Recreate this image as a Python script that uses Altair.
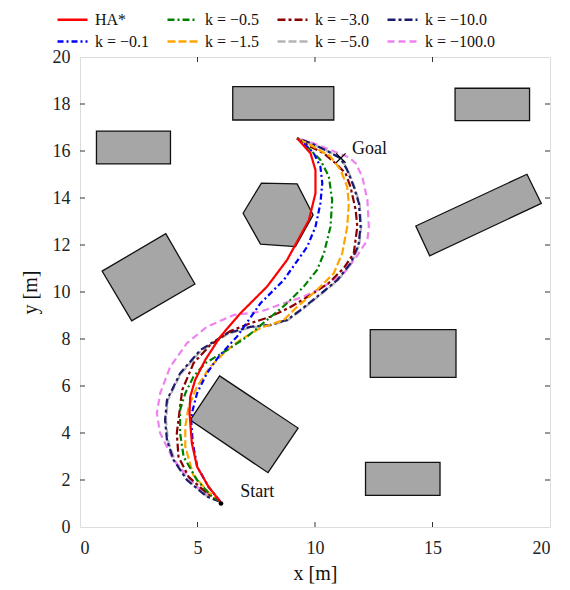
import altair as alt
import pandas as pd

SERIF = "Liberation Serif, Times New Roman, DejaVu Serif, serif"

# ---------------- series (legend order) ----------------
legend_order = ["HA*", "k = −0.5", "k = −3.0", "k = −10.0",
                "k = −0.1", "k = −1.5", "k = −5.0", "k = −100.0"]
colors = {"HA*": "#ff0000", "k = −0.1": "#0000ff", "k = −0.5": "#008000",
          "k = −1.5": "#ffa500", "k = −3.0": "#8b0000", "k = −5.0": "#b4b4b4",
          "k = −10.0": "#1c1c6e", "k = −100.0": "#ee82ee"}
dashes = {"HA*": [1, 0], "k = −0.1": [6, 3, 2, 3], "k = −0.5": [7, 3, 2, 3],
          "k = −1.5": [8, 3], "k = −3.0": [8, 3, 3, 3], "k = −5.0": [8, 3],
          "k = −10.0": [8, 3, 3, 3], "k = −100.0": [7, 4]}

ha_x = [5.97, 5.47, 4.98, 4.76, 4.66, 4.69, 4.90, 5.33, 5.97, 6.82, 7.96, 8.81, 9.74, 10.02, 10.02, 9.81, 9.24]
ha_y = [1.08, 1.71, 2.57, 3.56, 4.85, 5.54, 6.26, 7.11, 8.10, 9.09, 10.23, 11.36, 13.06, 14.20, 15.19, 15.90, 16.54]

k01_x = [5.97, 5.47, 4.99, 4.80, 4.73, 4.76, 4.98, 5.40, 5.90, 6.68, 7.68, 8.67, 9.67, 10.02, 10.23, 10.31, 10.23, 9.95, 9.52, 9.24]
k01_y = [1.08, 1.71, 2.57, 3.56, 4.55, 4.84, 5.69, 6.54, 7.25, 8.10, 9.52, 10.51, 11.93, 12.78, 13.77, 14.63, 15.33, 15.90, 16.33, 16.54]

k05_x = [5.97, 5.54, 4.98, 4.41, 4.26, 4.26, 4.48, 4.83, 5.33, 6.26, 7.11, 7.96, 8.81, 9.52, 10.09, 10.38, 10.66, 10.73, 10.59, 10.23, 9.74, 9.24]
k05_y = [1.08, 1.36, 2.00, 2.99, 3.99, 4.98, 5.69, 6.40, 6.97, 7.53, 8.10, 8.81, 9.52, 10.23, 10.94, 11.65, 12.78, 13.91, 14.91, 15.62, 16.11, 16.54]

k15_x = [5.97, 5.46, 4.82, 4.48, 4.48, 4.62, 4.98, 5.54, 6.26, 6.82, 7.68, 8.67, 9.24, 10.09, 10.80, 11.16, 11.37, 11.44, 11.37, 11.09, 10.66, 9.95, 9.24]
k15_y = [1.08, 1.49, 2.21, 3.42, 4.27, 5.12, 5.97, 6.82, 7.53, 7.96, 8.47, 8.81, 9.37, 10.09, 10.80, 11.65, 12.78, 13.77, 14.48, 15.19, 15.76, 16.18, 16.54]

k3_x = [5.97, 5.40, 4.62, 4.19, 4.12, 4.26, 4.35, 4.83, 5.54, 6.40, 7.25, 8.10, 8.96, 9.81, 10.58, 11.23, 11.65, 11.80, 11.73, 11.51, 11.30, 10.87, 10.38, 9.81, 9.24]
k3_y = [1.08, 1.43, 2.14, 2.99, 3.99, 5.12, 5.83, 6.97, 7.74, 8.34, 8.67, 8.95, 9.36, 9.87, 10.38, 11.02, 11.65, 12.78, 13.49, 14.48, 15.05, 15.48, 15.90, 16.18, 16.54]

k5_x = [5.97, 5.42, 4.58, 4.02, 3.74, 3.66, 3.74, 4.29, 5.15, 6.29, 7.27, 8.12, 8.83, 9.40, 10.11, 10.97, 11.54, 11.88, 11.97, 11.90, 11.68, 11.40, 11.11, 10.47, 9.82, 9.24]
k5_y = [1.08, 1.30, 2.02, 2.86, 3.70, 4.55, 5.40, 6.52, 7.50, 8.21, 8.49, 8.58, 8.79, 9.21, 9.78, 10.49, 11.20, 11.98, 12.78, 13.77, 14.48, 15.19, 15.68, 16.03, 16.33, 16.54]

k10_x = [5.97, 5.40, 4.55, 3.98, 3.70, 3.62, 3.70, 4.26, 5.12, 6.26, 7.25, 8.10, 8.81, 9.38, 10.09, 10.95, 11.51, 11.85, 11.94, 11.87, 11.65, 11.37, 11.09, 10.45, 9.81, 9.24]
k10_y = [1.08, 1.29, 2.00, 2.85, 3.70, 4.55, 5.40, 6.54, 7.53, 8.24, 8.52, 8.60, 8.81, 9.23, 9.80, 10.51, 11.22, 12.00, 12.78, 13.77, 14.48, 15.19, 15.69, 16.04, 16.34, 16.54]

k100_x = [5.97, 4.98, 3.98, 3.41, 3.27, 3.41, 3.84, 4.55, 5.40, 6.54, 7.68, 8.67, 9.52, 10.38, 11.23, 11.73, 12.23, 12.29, 12.23, 12.01, 11.73, 11.43, 11.09, 10.45, 9.81, 9.24]
k100_y = [1.08, 1.71, 2.85, 3.99, 4.84, 5.69, 6.82, 7.82, 8.52, 9.02, 9.16, 9.52, 9.80, 10.23, 10.80, 11.45, 12.21, 12.78, 13.91, 14.91, 15.48, 15.74, 15.87, 16.13, 16.38, 16.54]

# drawing order (first drawn = bottom)
draw_series = [("k = −5.0", k5_x, k5_y), ("k = −100.0", k100_x, k100_y),
               ("k = −10.0", k10_x, k10_y), ("k = −3.0", k3_x, k3_y),
               ("k = −1.5", k15_x, k15_y), ("k = −0.5", k05_x, k05_y),
               ("k = −0.1", k01_x, k01_y), ("HA*", ha_x, ha_y)]

# ---------------- obstacles ----------------
obstacles = {
    "rect_tl": [(0.70, 15.45), (3.85, 15.45), (3.85, 16.85), (0.70, 16.85)],
    "rect_tm": [(6.50, 17.32), (10.80, 17.32), (10.80, 18.74), (6.50, 18.74)],
    "rect_tr": [(15.96, 17.29), (19.13, 17.29), (19.13, 18.67), (15.96, 18.67)],
    "rot_r": [(14.29, 12.81), (19.02, 15.01), (19.63, 13.77), (14.88, 11.54)],
    "hexagon": [(6.94, 13.35), (7.72, 14.63), (9.24, 14.60), (9.92, 13.28), (9.17, 11.93), (7.68, 12.04)],
    "rot_l": [(0.94, 10.89), (3.65, 12.48), (4.89, 10.34), (2.20, 8.77)],
    "rot_m": [(5.94, 6.43), (9.28, 4.21), (8.00, 2.31), (4.69, 4.55)],
    "rect_mr": [(12.35, 6.37), (16.00, 6.37), (16.00, 8.40), (12.35, 8.40)],
    "rect_b": [(12.15, 1.35), (15.32, 1.35), (15.32, 2.75), (12.15, 2.75)],
}

start_xy = (6.0, 1.0)
goal_xy = (11.1, 15.7)
labels = ["Start", "Goal"]
label_x = [6.82, 11.57]
label_y = [1.49, 16.09]

x_ticks = [5, 10, 15]
y_ticks = [2, 4, 6, 8, 10, 12, 14, 16, 18]

W = H = 470

# ---------------- data frames ----------------
rows = []
for name, xs, ys in draw_series:
    for i, (xv, yv) in enumerate(zip(xs, ys)):
        rows.append({"series": name, "x": xv, "y": yv, "i": i})
paths = pd.DataFrame(rows)

orows = []
for name, pts in obstacles.items():
    for i, (xv, yv) in enumerate(pts):
        orows.append({"obs": name, "x": xv, "y": yv, "i": i})
obs_df = pd.DataFrame(orows)

xs_scale = alt.Scale(domain=[0, 20], nice=False, zero=False)
ys_scale = alt.Scale(domain=[0, 20], nice=False, zero=False)

axis_common = dict(labelFont=SERIF, labelFontSize=18, labelColor="#222",
                   titleFont=SERIF, titleFontSize=20, titleColor="#111",
                   titleFontWeight="normal", ticks=False, domain=False, grid=False)

X = alt.X("x:Q", scale=xs_scale,
          axis=alt.Axis(title="x [m]", values=[0, 5, 10, 15, 20], labelPadding=12,
                        titlePadding=6, **axis_common))
Y = alt.Y("y:Q", scale=ys_scale,
          axis=alt.Axis(title="y [m]", values=list(range(0, 21, 2)), labelPadding=10,
                        titlePadding=12, **axis_common))

obs_layer = alt.Chart(obs_df).mark_line(
    interpolate="linear-closed", fill="#a6a6a6", stroke="#111", strokeWidth=1.3
).encode(x=X, y=Y, detail="obs:N", order="i:Q")

legend = alt.Legend(orient="none", legendX=-19, legendY=-49, direction="horizontal",
                    columns=4, title=None, symbolType="M-1.5,0H1.5", symbolSize=400,
                    symbolStrokeWidth=2.5, labelFont=SERIF, labelFontSize=16,
                    labelColor="#111", columnPadding=12, rowPadding=2, padding=0,
                    labelOffset=11, labelLimit=0)

path_layer = alt.Chart(paths).mark_line(strokeWidth=2.2).encode(
    x=alt.X("x:Q", scale=xs_scale),
    y=alt.Y("y:Q", scale=ys_scale),
    color=alt.Color("series:N", scale=alt.Scale(domain=legend_order,
                                                range=[colors[s] for s in legend_order]),
                    legend=legend),
    strokeDash=alt.StrokeDash("series:N", scale=alt.Scale(domain=legend_order,
                                                          range=[dashes[s] for s in legend_order]),
                              legend=legend),
    order="i:Q",
)

start_df = pd.DataFrame({"x": [start_xy[0]], "y": [start_xy[1]]})
goal_df = pd.DataFrame({"x": [goal_xy[0]], "y": [goal_xy[1]]})
lab_df = pd.DataFrame({"label": labels, "x": label_x, "y": label_y})

start_layer = alt.Chart(start_df).mark_circle(size=22, color="black", opacity=1).encode(
    x=alt.X("x:Q", scale=xs_scale), y=alt.Y("y:Q", scale=ys_scale))
goal_layer = alt.Chart(goal_df).mark_point(
    shape="M-1,-1L1,1M-1,1L1,-1", size=90, filled=False, color="black", strokeWidth=1.2, opacity=1
).encode(x=alt.X("x:Q", scale=xs_scale), y=alt.Y("y:Q", scale=ys_scale))
text_layer = alt.Chart(lab_df).mark_text(
    align="left", baseline="middle", font=SERIF, fontSize=18, color="#111"
).encode(x=alt.X("x:Q", scale=xs_scale), y=alt.Y("y:Q", scale=ys_scale), text="label:N")

xt_df = pd.DataFrame({"v": x_ticks})
yt_df = pd.DataFrame({"v": y_ticks})
tick_color = "#333"
xt_bottom = alt.Chart(xt_df).mark_rule(color=tick_color, strokeWidth=1).encode(
    x=alt.X("v:Q", scale=xs_scale), y=alt.value(H), y2=alt.value(H - 5))
xt_top = alt.Chart(xt_df).mark_rule(color=tick_color, strokeWidth=1).encode(
    x=alt.X("v:Q", scale=xs_scale), y=alt.value(0), y2=alt.value(5))
yt_left = alt.Chart(yt_df).mark_rule(color=tick_color, strokeWidth=1).encode(
    y=alt.Y("v:Q", scale=ys_scale), x=alt.value(0), x2=alt.value(5))
yt_right = alt.Chart(yt_df).mark_rule(color=tick_color, strokeWidth=1).encode(
    y=alt.Y("v:Q", scale=ys_scale), x=alt.value(W), x2=alt.value(W - 5))

chart = alt.layer(
    obs_layer, path_layer, start_layer, goal_layer, text_layer,
    xt_bottom, xt_top, yt_left, yt_right
).properties(
    width=W, height=H,
    autosize=alt.AutoSizeParams(type="none"),
    padding={"left": 72, "top": 49, "right": 12, "bottom": 62},
).configure_view(
    stroke="#333", strokeWidth=1.3
).configure(background="white")

chart.save("out.html", embed_options={"renderer": "svg", "actions": False})
